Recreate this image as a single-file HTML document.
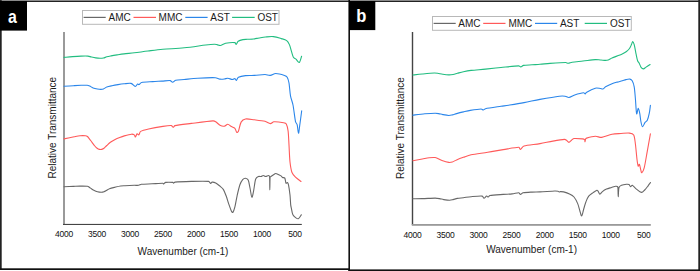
<!DOCTYPE html>
<html><head><meta charset="utf-8"><style>
html,body{margin:0;padding:0;background:#fff;}
body{width:700px;height:271px;overflow:hidden;}
svg{display:block;font-family:"Liberation Sans",sans-serif;}
.tk{font-size:8.5px;fill:#111;letter-spacing:-0.2px;}
.lg{font-size:10px;fill:#1a1a1a;}
.ax{font-size:10px;fill:#1a1a1a;}
.cv path{fill:none;stroke-width:1.1;stroke-linejoin:round;stroke-linecap:round;}
</style></head><body>
<svg width="700" height="271" viewBox="0 0 700 271">
<rect x="0" y="0" width="700" height="271" fill="#fff"/>
<!-- frame -->
<rect x="0" y="0" width="700" height="1" fill="#8a8a8a"/>
<rect x="0" y="1" width="700" height="1" fill="#222"/>
<rect x="0" y="0" width="1.7" height="270" fill="#222"/>
<rect x="698.3" y="0" width="1.7" height="271" fill="#222"/>
<rect x="0" y="268.3" width="349" height="1.7" fill="#111"/>
<rect x="348.4" y="269.4" width="351.6" height="1.6" fill="#111"/>
<rect x="348.4" y="0" width="1.6" height="271" fill="#111"/>
<!-- label boxes -->
<rect x="0" y="1" width="27" height="29.6" fill="#000"/>
<text transform="translate(12.4,22.6) scale(0.88,1)" text-anchor="middle" style="font-size:18px;font-weight:bold;fill:#fff">a</text>
<rect x="349" y="1" width="26.3" height="29.1" fill="#000"/>
<text transform="translate(361.4,22.3) scale(0.92,1)" text-anchor="middle" style="font-size:18px;font-weight:bold;fill:#fff">b</text>
<!-- axes a -->
<rect x="63" y="32" width="2" height="192.5" fill="#9a9a9a"/>
<rect x="63" y="223.9" width="238.8" height="1.1" fill="#444"/>
<!-- axes b -->
<rect x="411.8" y="32" width="1.4" height="193" fill="#444"/>
<rect x="411.8" y="224" width="239" height="1.8" fill="#9a9a9a"/>
<g class="tk"><text x="64.0" y="237" text-anchor="middle">4000</text><text x="97.0" y="237" text-anchor="middle">3500</text><text x="130.0" y="237" text-anchor="middle">3000</text><text x="163.0" y="237" text-anchor="middle">2500</text><text x="196.0" y="237" text-anchor="middle">2000</text><text x="229.0" y="237" text-anchor="middle">1500</text><text x="262.0" y="237" text-anchor="middle">1000</text><text x="295.0" y="237" text-anchor="middle">500</text></g>
<g class="tk"><text x="412.5" y="237.6" text-anchor="middle">4000</text><text x="445.6" y="237.6" text-anchor="middle">3500</text><text x="478.6" y="237.6" text-anchor="middle">3000</text><text x="511.6" y="237.6" text-anchor="middle">2500</text><text x="544.7" y="237.6" text-anchor="middle">2000</text><text x="577.8" y="237.6" text-anchor="middle">1500</text><text x="610.8" y="237.6" text-anchor="middle">1000</text><text x="643.8" y="237.6" text-anchor="middle">500</text></g>
<text class="ax" x="183" y="255" text-anchor="middle">Wavenumber (cm-1)</text>
<text class="ax" x="531.6" y="253.1" text-anchor="middle">Wavenumber (cm-1)</text>
<text class="ax" transform="translate(56.4,127.7) rotate(-90)" text-anchor="middle">Relative Transmittance</text>
<text class="ax" transform="translate(403.6,128.1) rotate(-90)" text-anchor="middle">Relative Transmittance</text>
<rect x="82.5" y="10.5" width="196.5" height="13.8" fill="#fff" stroke="#b8b8b8" stroke-width="1"/><line x1="83.6" x2="105.7" y1="17.4" y2="17.4" stroke="#686868" stroke-width="1.2"/><text x="108.6" y="21" class="lg">AMC</text><line x1="133.5" x2="156" y1="17.4" y2="17.4" stroke="#ff5a5a" stroke-width="1.2"/><text x="158.6" y="21" class="lg">MMC</text><line x1="185.3" x2="207.6" y1="17.4" y2="17.4" stroke="#2b86ea" stroke-width="1.2"/><text x="210.3" y="21" class="lg">AST</text><line x1="232.1" x2="254.7" y1="17.4" y2="17.4" stroke="#22bd80" stroke-width="1.2"/><text x="257.4" y="21" class="lg">OST</text>
<rect x="432.5" y="16.5" width="198.8" height="13.8" fill="#fff" stroke="#b8b8b8" stroke-width="1"/><line x1="433.6" x2="455.7" y1="23.4" y2="23.4" stroke="#686868" stroke-width="1.2"/><text x="458.3" y="27" class="lg">AMC</text><line x1="483.2" x2="505.5" y1="23.4" y2="23.4" stroke="#ff5a5a" stroke-width="1.2"/><text x="508.4" y="27" class="lg">MMC</text><line x1="535" x2="557.2" y1="23.4" y2="23.4" stroke="#2b86ea" stroke-width="1.2"/><text x="559.9" y="27" class="lg">AST</text><line x1="584.7" x2="607" y1="23.4" y2="23.4" stroke="#22bd80" stroke-width="1.2"/><text x="610" y="27" class="lg">OST</text>
<g class="cv">
<path d="M64.00,186.80 C65.55,186.73 70.63,186.52 73.30,186.40 C75.53,186.30 77.76,186.12 80.00,186.10 C82.35,186.08 85.72,186.00 87.40,186.30 C88.43,186.48 89.21,187.36 90.10,187.90 C91.17,188.55 92.57,189.55 93.80,190.20 C94.99,190.83 96.27,191.45 97.50,191.80 C98.70,192.14 100.12,192.30 101.20,192.30 C102.15,192.30 103.11,192.13 104.00,191.80 C104.93,191.45 105.88,190.72 106.80,190.20 C107.70,189.69 108.53,189.05 109.50,188.70 C110.88,188.20 113.25,187.65 115.10,187.20 C116.92,186.76 118.95,186.25 120.60,186.00 C122.05,185.78 123.53,185.78 125.00,185.70 C127.28,185.58 132.03,185.37 134.30,185.30 C135.73,185.26 137.42,185.47 138.60,185.30 C139.58,185.16 140.42,184.41 141.40,184.30 C143.63,184.05 148.47,183.96 152.00,183.80 C155.58,183.63 160.97,183.28 162.90,183.30 C163.21,183.30 163.31,183.99 163.60,183.90 C164.07,183.75 164.85,182.54 165.70,182.40 C167.25,182.15 171.58,182.27 172.90,182.40 C173.25,182.44 173.25,183.25 173.60,183.20 C173.95,183.15 174.41,182.16 175.00,182.10 C177.97,181.80 185.93,181.51 191.40,181.40 C197.00,181.28 205.38,181.07 208.60,181.40 C209.56,181.50 210.12,183.28 210.70,183.40 C211.28,183.52 211.47,182.16 212.10,182.10 C212.93,182.02 214.61,182.33 215.70,182.90 C217.02,183.58 218.73,185.12 220.00,186.20 C221.16,187.20 222.48,188.11 223.30,189.40 C224.32,191.00 225.28,193.62 226.10,195.80 C227.02,198.25 227.88,201.48 228.80,204.10 C229.67,206.59 230.92,210.12 231.60,211.50 C231.83,211.97 232.59,212.83 232.90,212.40 C233.45,211.63 234.42,208.79 234.90,206.90 C235.60,204.13 236.27,199.48 237.10,195.80 C237.93,192.12 238.97,187.50 239.90,184.80 C240.54,182.94 241.78,180.68 242.70,179.60 C243.35,178.84 244.48,178.22 245.40,178.30 C246.32,178.38 247.74,179.09 248.20,180.10 C248.98,181.80 249.50,185.69 250.10,188.50 C250.72,191.37 251.30,197.00 251.90,197.30 C252.50,197.60 253.22,192.66 253.70,190.30 C254.32,187.28 254.82,181.50 255.60,179.20 C256.02,177.97 257.48,176.95 258.40,176.50 C259.21,176.10 260.28,176.67 261.10,176.50 C261.89,176.34 262.53,175.50 263.30,175.50 C264.07,175.50 264.83,176.50 265.70,176.50 C266.57,176.50 267.85,175.42 268.50,175.50 C269.12,175.58 269.54,176.38 269.60,177.00 C269.82,179.40 269.72,189.90 269.80,189.90 C269.88,189.90 269.92,179.23 270.10,177.00 C270.13,176.69 270.64,176.68 270.90,176.50 C271.72,175.95 274.05,174.17 275.00,173.70 C275.48,173.46 276.10,173.52 276.60,173.70 C277.60,174.07 280.02,175.28 281.00,175.90 C281.60,176.28 281.89,177.05 282.50,177.40 C283.13,177.77 284.39,177.41 284.80,178.10 C285.38,179.08 285.57,182.57 286.00,183.30 C286.27,183.76 286.98,182.25 287.40,182.50 C287.82,182.75 288.33,183.97 288.50,184.80 C288.93,186.88 289.63,191.65 290.00,195.00 C290.36,198.29 290.47,202.67 290.70,204.90 C290.82,206.08 291.14,207.24 291.40,208.40 C291.77,210.05 292.08,213.18 292.90,214.80 C293.61,216.21 295.37,217.47 296.30,218.10 C296.92,218.52 297.87,219.01 298.50,218.60 C299.33,218.05 300.83,215.43 301.30,214.80" stroke="#686868"/>
<path d="M64.00,138.90 C65.70,138.55 71.53,137.32 74.20,136.80 C76.13,136.43 78.12,135.97 80.00,135.80 C81.83,135.64 84.27,135.68 85.50,135.80 C86.17,135.86 86.86,136.09 87.40,136.50 C88.02,136.97 88.63,137.88 89.20,138.60 C89.97,139.57 91.07,141.07 92.00,142.30 C92.93,143.53 93.95,145.00 94.80,146.00 C95.50,146.83 96.33,147.73 97.10,148.30 C97.78,148.81 98.63,149.22 99.40,149.40 C100.15,149.58 100.95,149.58 101.70,149.40 C102.47,149.22 103.32,148.82 104.00,148.30 C104.85,147.65 105.84,146.40 106.80,145.50 C107.87,144.50 109.10,143.24 110.40,142.30 C111.78,141.30 113.55,140.30 115.10,139.50 C116.59,138.73 118.17,138.10 119.70,137.50 C121.21,136.91 122.74,136.34 124.30,135.90 C126.25,135.35 129.73,134.37 131.40,134.20 C132.39,134.10 133.63,134.45 134.30,134.90 C134.93,135.33 134.93,137.08 135.40,136.90 C135.87,136.72 136.52,134.15 137.10,133.80 C137.68,133.45 138.33,135.18 138.90,134.80 C139.50,134.40 139.60,132.06 140.70,131.40 C142.32,130.43 145.92,129.60 148.60,129.00 C152.30,128.17 159.10,126.97 162.90,126.40 C165.71,125.98 169.70,125.45 171.40,125.60 C172.20,125.67 172.50,127.30 173.10,127.30 C173.70,127.30 174.17,125.78 175.00,125.60 C178.05,124.95 185.93,124.08 191.40,123.40 C197.72,122.62 208.85,121.18 212.90,120.90 C213.87,120.83 214.87,121.19 215.70,121.70 C216.88,122.43 218.57,124.55 220.00,125.30 C221.30,125.98 223.00,126.37 224.30,126.20 C225.60,126.03 226.62,124.23 227.80,124.30 C228.98,124.37 230.22,125.93 231.40,126.60 C232.53,127.24 234.03,127.34 234.90,128.30 C235.78,129.27 236.10,131.95 236.70,132.40 C237.30,132.85 238.20,131.70 238.50,131.00 C239.23,129.28 239.93,124.10 241.10,122.10 C242.00,120.55 243.73,119.31 245.50,119.00 C247.72,118.62 251.44,119.45 254.40,119.80 C257.65,120.18 262.35,120.67 265.00,121.30 C266.87,121.75 268.82,123.52 270.30,123.60 C271.64,123.68 272.56,121.89 273.90,121.80 C276.12,121.65 281.53,122.35 283.60,122.70 C284.57,122.86 285.83,123.03 286.30,123.90 C287.05,125.28 287.79,128.58 288.10,131.00 C288.55,134.52 288.71,140.33 289.00,145.00 C289.32,150.17 289.50,157.42 290.00,162.00 C290.39,165.54 291.03,169.93 292.00,172.50 C292.73,174.43 294.34,175.94 295.80,177.40 C297.30,178.90 300.13,180.82 301.00,181.50" stroke="#ff5a5a"/>
<path d="M64.00,86.30 C65.57,86.20 70.55,85.87 73.40,85.70 C75.97,85.55 78.82,85.37 81.10,85.30 C83.10,85.24 85.67,85.17 87.10,85.30 C88.00,85.38 88.87,85.74 89.70,86.10 C90.70,86.53 91.90,87.45 93.10,87.90 C94.38,88.38 96.12,88.75 97.40,89.00 C98.52,89.22 99.80,89.40 100.80,89.40 C101.68,89.40 102.59,89.33 103.40,89.00 C104.40,88.60 105.57,87.47 106.80,87.00 C108.23,86.45 110.25,86.07 112.00,85.70 C113.87,85.30 116.00,84.92 118.00,84.60 C119.99,84.28 121.99,83.99 124.00,83.80 C126.17,83.60 129.13,82.97 131.00,83.40 C132.68,83.79 134.12,86.30 135.20,86.40 C136.28,86.50 136.88,84.30 137.50,84.00 C137.96,83.78 138.42,84.77 138.90,84.60 C139.58,84.35 140.49,82.74 141.60,82.50 C143.90,82.00 149.32,81.83 152.70,81.60 C155.76,81.39 158.98,81.27 161.90,81.10 C164.67,80.94 168.42,80.42 170.20,80.60 C171.16,80.70 171.67,82.25 172.60,82.20 C173.53,82.15 174.59,80.58 175.80,80.30 C177.72,79.85 181.33,79.77 184.10,79.50 C187.75,79.15 193.15,78.46 197.70,78.20 C202.92,77.90 211.70,77.55 215.40,77.70 C216.97,77.76 218.42,78.88 219.90,79.10 C221.35,79.31 222.98,79.15 224.30,79.00 C225.49,78.86 226.61,78.13 227.80,78.20 C229.13,78.28 231.12,79.43 232.30,79.50 C233.22,79.55 234.23,78.45 234.90,78.60 C235.57,78.75 235.70,80.63 236.30,80.40 C236.90,80.17 237.35,77.80 238.50,77.20 C240.03,76.40 243.12,75.87 245.50,75.60 C248.15,75.30 251.44,75.57 254.40,75.40 C257.65,75.22 262.35,74.50 265.00,74.50 C266.79,74.50 268.52,75.57 270.30,75.40 C272.08,75.23 273.79,73.50 275.70,73.50 C278.07,73.50 282.58,74.78 284.50,75.40 C285.53,75.73 286.65,76.27 287.20,77.20 C287.95,78.47 288.65,81.01 289.00,83.00 C289.55,86.10 289.83,92.13 290.50,95.80 C291.07,98.93 292.40,101.88 293.00,105.00 C293.83,109.30 294.80,118.28 295.50,121.60 C295.76,122.81 296.89,123.70 297.20,124.90 C297.70,126.83 298.08,133.07 298.50,133.20 C298.92,133.33 299.34,128.21 299.70,125.70 C300.23,121.97 301.37,113.28 301.70,110.80" stroke="#2b86ea"/>
<path d="M64.00,57.40 C65.43,57.27 69.75,56.82 72.60,56.60 C75.43,56.38 78.53,56.18 81.10,56.10 C83.40,56.03 86.28,55.95 88.00,56.10 C89.17,56.20 90.26,56.73 91.40,57.00 C92.68,57.30 94.27,57.68 95.70,57.90 C97.12,58.12 98.72,58.28 100.00,58.30 C101.14,58.31 102.29,58.25 103.40,58.00 C104.53,57.75 105.64,57.12 106.80,56.80 C108.08,56.45 109.66,56.17 111.10,55.90 C112.82,55.58 115.10,55.21 117.10,54.90 C119.25,54.57 121.69,54.18 124.00,53.90 C126.87,53.55 130.87,53.21 134.30,52.80 C138.30,52.32 143.43,51.56 148.00,51.00 C152.77,50.42 157.92,49.74 162.90,49.30 C168.95,48.77 177.18,48.51 184.30,47.80 C191.43,47.08 200.70,45.60 205.70,45.00 C208.56,44.66 212.42,44.27 214.30,44.20 C215.21,44.17 216.11,44.41 217.00,44.60 C218.00,44.82 219.17,45.67 220.30,45.50 C221.73,45.28 223.72,43.67 225.60,43.30 C228.03,42.82 233.13,42.43 234.90,42.60 C235.61,42.67 235.65,44.52 236.20,44.30 C236.75,44.08 237.22,41.99 238.20,41.30 C239.32,40.52 241.38,39.93 242.90,39.60 C244.34,39.28 245.83,39.38 247.30,39.30 C249.07,39.20 251.55,39.22 253.50,39.00 C255.35,38.79 257.16,38.31 259.00,38.00 C261.00,37.67 263.32,37.21 265.50,37.00 C267.90,36.77 270.78,36.34 273.40,36.60 C276.05,36.87 279.18,37.93 281.40,38.60 C283.21,39.14 285.37,39.60 286.70,40.60 C287.99,41.57 288.75,43.13 289.40,44.60 C290.18,46.37 290.73,49.10 291.40,51.20 C292.04,53.21 292.63,55.87 293.40,57.20 C293.95,58.15 295.19,58.47 296.00,59.20 C296.98,60.08 298.37,62.98 299.30,62.50 C300.23,62.02 301.22,57.33 301.60,56.30" stroke="#22bd80"/>

<path d="M412.90,198.70 C414.47,198.68 419.17,198.68 422.30,198.60 C426.00,198.50 432.25,198.10 435.10,198.10 C436.54,198.10 437.98,198.35 439.40,198.60 C440.83,198.85 442.25,199.36 443.70,199.60 C445.42,199.88 448.13,200.30 449.70,200.30 C450.86,200.30 451.98,199.88 453.10,199.60 C454.38,199.28 455.94,198.67 457.40,198.40 C459.12,198.08 461.40,197.95 463.40,197.70 C465.68,197.42 468.52,196.92 471.10,196.70 C474.23,196.43 480.05,195.83 482.20,196.10 C483.14,196.22 483.27,198.30 484.00,198.30 C484.73,198.30 485.90,196.32 486.60,196.10 C487.18,195.92 487.65,197.10 488.20,197.00 C488.75,196.90 489.16,195.63 489.90,195.50 C492.40,195.07 499.50,194.67 503.20,194.40 C506.16,194.19 509.52,194.17 512.10,193.90 C514.32,193.67 517.30,192.72 518.70,192.80 C519.50,192.85 519.77,194.40 520.50,194.40 C521.23,194.40 522.10,193.00 523.10,192.80 C525.02,192.42 529.18,192.25 532.00,192.10 C534.66,191.96 537.34,192.03 540.00,191.90 C543.80,191.72 551.80,191.10 554.80,191.00 C555.87,190.96 557.27,191.13 558.00,191.30 C558.45,191.40 558.78,191.95 559.20,192.00 C559.62,192.05 560.05,191.61 560.50,191.60 C561.23,191.58 562.60,191.63 563.60,191.90 C565.10,192.30 567.77,193.15 569.50,194.00 C571.12,194.79 572.83,195.63 574.00,197.00 C575.37,198.60 576.72,201.28 577.70,203.60 C578.68,205.93 579.23,208.95 579.90,211.00 C580.44,212.65 581.08,216.15 581.70,215.90 C582.32,215.65 582.96,211.63 583.60,209.50 C584.28,207.22 584.95,204.42 585.80,202.20 C586.60,200.13 587.47,197.80 588.70,196.20 C589.87,194.68 591.83,193.58 593.20,192.60 C594.38,191.75 596.07,190.52 596.90,190.30 C597.43,190.16 597.86,190.87 598.20,191.30 C598.70,191.93 599.20,194.05 599.90,194.10 C600.60,194.15 601.46,192.31 602.40,191.60 C603.50,190.77 605.04,189.76 606.50,189.10 C608.02,188.42 609.97,187.97 611.50,187.50 C612.89,187.08 614.65,186.38 615.70,186.30 C616.44,186.24 617.63,186.28 617.80,187.00 C618.22,188.72 618.00,196.52 618.20,196.60 C618.40,196.68 618.45,189.38 619.00,187.50 C619.31,186.43 620.48,185.74 621.50,185.30 C622.75,184.77 625.25,184.42 626.50,184.30 C627.34,184.22 628.32,184.22 629.00,184.60 C629.68,184.98 630.05,186.48 630.60,186.60 C631.15,186.72 631.64,185.02 632.30,185.30 C633.27,185.72 634.93,187.95 636.40,189.10 C637.92,190.28 640.02,192.25 641.40,192.40 C642.75,192.55 643.73,190.95 644.70,190.00 C645.82,188.90 647.13,187.05 648.10,185.80 C648.93,184.72 650.10,183.05 650.50,182.50" stroke="#686868"/>
<path d="M412.90,160.70 C414.47,160.42 419.60,159.50 422.30,159.00 C424.57,158.58 426.97,157.95 429.10,157.70 C431.09,157.47 433.67,157.38 435.10,157.50 C436.01,157.57 436.86,158.03 437.70,158.40 C438.85,158.90 440.50,159.96 442.00,160.50 C443.85,161.17 447.08,162.15 448.80,162.40 C449.96,162.57 451.18,162.36 452.30,162.00 C453.60,161.58 455.13,160.52 456.60,159.90 C458.45,159.12 461.11,158.11 463.40,157.30 C465.82,156.45 468.46,155.35 471.10,154.80 C475.15,153.95 482.35,153.07 487.70,152.20 C492.87,151.36 498.02,150.42 503.20,149.60 C508.38,148.78 515.93,147.33 518.80,147.30 C519.68,147.29 519.55,149.61 520.40,149.40 C521.27,149.18 522.42,146.47 524.00,146.00 C527.27,145.03 535.18,144.42 540.00,143.60 C544.32,142.87 548.83,141.80 552.90,141.10 C556.72,140.44 562.13,139.55 564.40,139.40 C565.15,139.35 565.88,139.78 566.50,140.20 C567.25,140.70 568.07,142.40 568.90,142.40 C569.73,142.40 570.63,140.85 571.50,140.20 C572.33,139.58 573.07,138.62 574.10,138.50 C575.92,138.28 580.65,138.72 582.40,138.90 C583.17,138.98 584.17,139.12 584.60,139.60 C585.03,140.08 584.83,141.90 585.00,141.80 C585.17,141.70 585.33,139.62 585.60,139.00 C585.78,138.59 586.17,138.22 586.60,138.10 C588.22,137.65 592.78,136.42 595.30,136.30 C597.46,136.20 599.55,137.66 601.70,137.40 C604.48,137.07 608.78,134.95 612.00,134.30 C614.95,133.70 618.10,133.70 621.00,133.50 C623.80,133.31 627.28,132.87 629.40,133.10 C630.94,133.27 632.95,133.54 633.70,134.90 C634.70,136.72 634.99,140.94 635.40,144.00 C635.95,148.10 636.53,155.80 637.00,159.50 C637.28,161.75 637.80,165.40 638.20,166.20 C638.53,166.87 638.99,163.67 639.40,164.30 C639.85,164.98 640.50,168.90 640.90,170.30 C641.13,171.12 641.25,173.10 641.80,172.70 C642.35,172.30 643.76,169.63 644.20,167.90 C645.12,164.30 646.28,156.70 647.30,151.10 C648.33,145.43 649.88,136.77 650.40,133.90" stroke="#ff5a5a"/>
<path d="M412.90,115.10 C414.90,114.88 421.20,114.12 424.90,113.80 C428.29,113.51 432.82,113.23 435.10,113.20 C436.27,113.18 437.44,113.39 438.60,113.60 C439.88,113.83 441.39,114.34 442.80,114.60 C444.50,114.92 447.22,115.45 448.80,115.50 C449.98,115.54 451.15,115.18 452.30,114.90 C453.60,114.58 455.15,113.99 456.60,113.60 C458.45,113.10 461.12,112.43 463.40,111.90 C465.68,111.37 467.98,110.78 470.30,110.40 C473.25,109.92 478.93,109.07 481.10,109.00 C481.91,108.98 482.57,110.05 483.30,110.00 C484.03,109.95 484.67,108.87 485.50,108.70 C488.45,108.08 497.15,106.88 501.00,106.30 C503.53,105.92 506.07,105.61 508.60,105.20 C512.43,104.58 518.88,103.55 524.00,102.60 C529.23,101.63 534.65,100.37 540.00,99.40 C545.88,98.33 555.12,96.73 559.30,96.20 C561.22,95.96 563.50,95.98 565.10,96.20 C566.43,96.38 567.57,97.68 568.90,97.50 C570.50,97.28 572.68,95.55 574.70,94.90 C577.17,94.10 581.95,92.85 583.70,92.70 C584.36,92.64 584.77,94.05 585.20,94.00 C585.63,93.95 585.74,92.72 586.30,92.40 C587.98,91.43 592.95,88.85 595.30,88.20 C596.94,87.75 599.12,88.38 600.40,88.50 C601.27,88.58 602.17,89.17 603.00,88.90 C603.87,88.62 604.64,87.36 605.60,86.80 C607.10,85.93 610.08,84.48 612.00,83.70 C613.65,83.03 615.38,82.58 617.10,82.10 C618.82,81.62 620.82,81.22 622.30,80.80 C623.55,80.45 624.73,79.88 626.00,79.60 C627.27,79.32 628.87,78.90 629.90,79.10 C630.84,79.28 631.74,79.97 632.20,80.80 C632.92,82.08 633.83,84.72 634.20,86.80 C634.73,89.78 635.04,94.73 635.40,98.70 C635.80,103.17 636.13,112.00 636.60,113.60 C637.07,115.20 637.68,108.38 638.20,108.30 C638.72,108.22 639.36,111.46 639.70,113.10 C640.15,115.30 640.43,119.22 640.90,121.50 C641.27,123.31 641.83,126.60 642.50,126.80 C643.17,127.00 644.10,123.78 644.90,122.70 C645.57,121.79 646.83,121.33 647.30,120.30 C648.03,118.70 648.79,115.54 649.30,113.10 C649.82,110.62 650.22,106.68 650.40,105.40" stroke="#2b86ea"/>
<path d="M412.90,75.00 C414.47,74.83 419.16,74.29 422.30,74.00 C425.87,73.67 431.73,73.12 434.30,73.00 C435.44,72.95 436.58,73.13 437.70,73.30 C439.12,73.52 441.09,74.05 442.80,74.30 C444.65,74.57 447.08,74.87 448.80,74.90 C450.24,74.93 451.68,74.76 453.10,74.50 C454.53,74.23 455.96,73.69 457.40,73.30 C459.12,72.83 461.37,72.13 463.40,71.70 C465.68,71.22 468.51,70.70 471.10,70.40 C474.78,69.97 480.70,69.57 485.50,69.10 C490.48,68.62 495.83,68.00 501.00,67.50 C506.53,66.97 515.40,66.00 518.70,65.90 C519.47,65.88 520.03,66.98 520.80,66.90 C521.60,66.82 522.49,65.59 523.50,65.40 C525.37,65.05 529.25,64.98 532.00,64.80 C534.67,64.62 537.34,64.51 540.00,64.30 C543.00,64.07 546.66,63.63 550.00,63.40 C554.28,63.10 562.65,62.52 565.70,62.50 C566.61,62.50 567.39,63.34 568.30,63.30 C569.37,63.25 570.80,62.40 572.10,62.20 C574.55,61.82 579.37,61.41 583.00,61.00 C586.87,60.57 592.30,59.77 595.30,59.60 C597.20,59.49 599.10,59.89 601.00,60.00 C602.93,60.12 605.07,60.63 606.90,60.30 C608.73,59.97 610.28,58.71 612.00,58.00 C614.55,56.95 619.78,55.08 622.20,54.00 C623.71,53.32 625.28,52.42 626.50,51.50 C627.63,50.65 628.68,49.65 629.50,48.50 C630.33,47.33 630.97,45.65 631.50,44.50 C631.94,43.55 632.25,41.58 632.70,41.60 C633.15,41.62 633.91,43.52 634.20,44.60 C634.77,46.70 635.53,51.50 636.10,54.20 C636.56,56.41 637.10,59.33 637.60,60.80 C637.89,61.64 638.68,62.22 639.10,63.00 C639.72,64.15 640.57,66.72 641.30,67.70 C641.80,68.37 642.77,68.95 643.50,68.90 C644.23,68.85 644.96,67.89 645.70,67.40 C646.80,66.67 649.37,64.98 650.10,64.50" stroke="#22bd80"/>

</g>
</svg>
</body></html>
